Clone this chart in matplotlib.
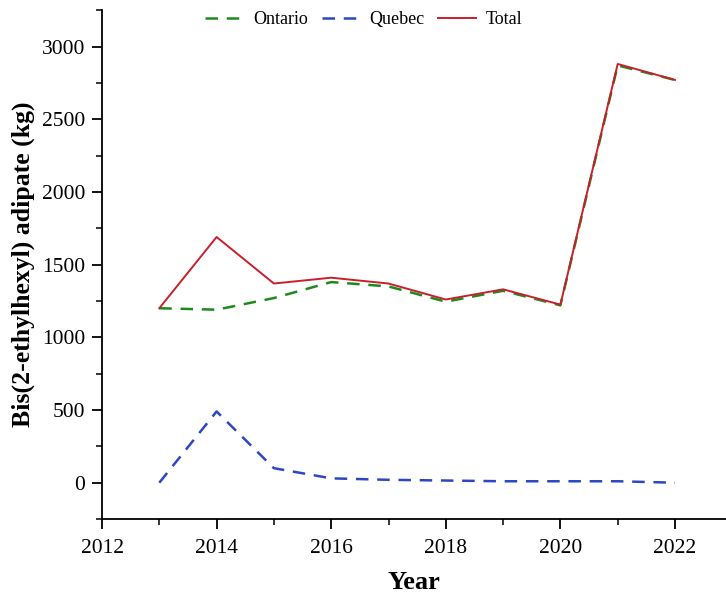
import matplotlib
matplotlib.use("Agg")
import matplotlib.pyplot as plt
from matplotlib.ticker import MultipleLocator

years = [2013, 2014, 2015, 2016, 2017, 2018, 2019, 2020, 2021, 2022]
ontario = [1200, 1190, 1270, 1380, 1350, 1245, 1320, 1220, 2870, 2770]
quebec = [0, 490, 100, 30, 20, 15, 10, 10, 10, 0]
total = [1200, 1690, 1370, 1410, 1370, 1260, 1330, 1225, 2880, 2770]

plt.rcParams['font.family'] = ['Liberation Serif', 'DejaVu Serif']

fig = plt.figure(figsize=(7.26, 5.98), dpi=100)
ax = fig.add_axes([0.1405, 0.132, 0.8595, 0.851])

ax.plot(years, ontario, color='#1e8a1e', ls=(0, (5, 3.5)), lw=1.8, label='Ontario')
ax.plot(years, quebec, color='#2b48c0', ls=(0, (5, 3.5)), lw=1.8, label='Quebec')
ax.plot(years, total, color='#c8202a', lw=1.4, label='Total')

ax.set_xlim(2012, 2022.89)
ax.set_ylim(-250, 3250)
ax.xaxis.set_major_locator(MultipleLocator(2))
ax.xaxis.set_minor_locator(MultipleLocator(1))
ax.yaxis.set_major_locator(MultipleLocator(500))
ax.yaxis.set_minor_locator(MultipleLocator(250))

for s in ['top', 'right']:
    ax.spines[s].set_visible(False)
for s in ['left', 'bottom']:
    ax.spines[s].set_linewidth(1.3)
ax.tick_params(which='major', direction='out', length=7, width=1.3, labelsize=15.5)
ax.tick_params(axis='x', which='major', pad=7)
ax.tick_params(axis='y', which='major', pad=5)
ax.tick_params(which='minor', direction='out', length=4, width=1.1)

ax.set_xlabel('Year', fontsize=19, fontweight='bold', labelpad=10)
ax.set_ylabel('Bis(2-ethylhexyl) adipate (kg)', fontsize=18.5, fontweight='bold', labelpad=5)

ax.legend(loc='upper center', bbox_to_anchor=(0.42, 1.03), ncol=3, frameon=False,
          fontsize=13, handlelength=2.1, columnspacing=0.75, handletextpad=0.55)

fig.savefig('out.png', dpi=100)
